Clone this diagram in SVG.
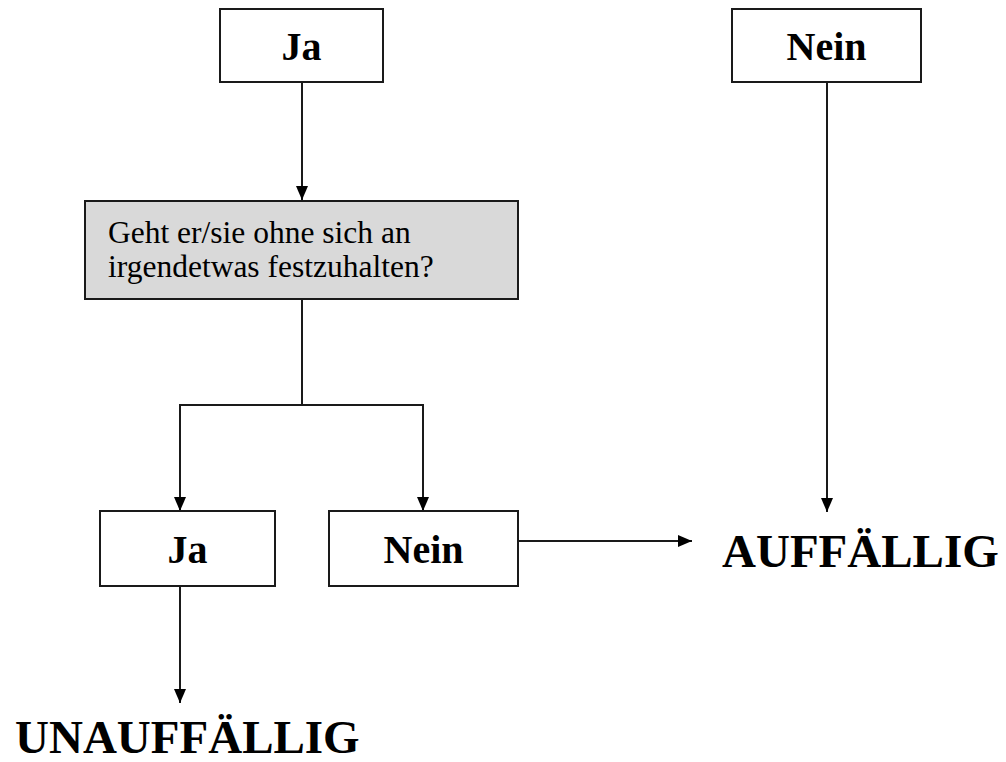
<svg xmlns="http://www.w3.org/2000/svg" width="1006" height="762" viewBox="0 0 1006 762">
  <defs>
    <style>
      .box { fill: #ffffff; stroke: #1a1a1a; stroke-width: 2; }
      .q { fill: #d9d9d9; stroke: #1a1a1a; stroke-width: 2; }
      .lbl { font-family: 'Liberation Serif', serif; font-weight: bold; font-size: 40px; fill: #000; text-anchor: middle; }
      .res { font-family: 'Liberation Serif', serif; font-weight: bold; font-size: 47px; fill: #000; }
      .qt { font-family: 'Liberation Serif', serif; font-weight: normal; font-style: normal; font-size: 31.5px; fill: #000; }
      .edge { fill: none; stroke: #1a1a1a; stroke-width: 2; }
    </style>
    <marker id="arrow" markerUnits="userSpaceOnUse" markerWidth="14" markerHeight="12" refX="14" refY="6" orient="auto">
      <path d="M0,0 L14,6 L0,12 z" fill="#000"/>
    </marker>
  </defs>
  <rect width="1006" height="762" fill="#ffffff"/>

  <g id="connectors">
    <path class="edge" d="M302,82 V200" marker-end="url(#arrow)"/>
    <path class="edge" d="M302,299 V405 H180 V511" marker-end="url(#arrow)"/>
    <path class="edge" d="M302,405 H423 V511" marker-end="url(#arrow)"/>
    <path class="edge" d="M827,82 V512" marker-end="url(#arrow)"/>
    <path class="edge" d="M518,541 H692" marker-end="url(#arrow)"/>
    <path class="edge" d="M180,586 V703" marker-end="url(#arrow)"/>
  </g>

  <g id="top-ja">
    <rect class="box" x="220" y="9" width="163" height="73"/>
    <text class="lbl" x="301.5" y="60">Ja</text>
  </g>

  <g id="top-nein">
    <rect class="box" x="732" y="9" width="189" height="73"/>
    <text class="lbl" x="826.5" y="60">Nein</text>
  </g>

  <g id="question">
    <rect class="q" x="85" y="201" width="433" height="98"/>
    <text class="qt" x="108" y="243">Geht er/sie ohne sich an</text>
    <text class="qt" x="108" y="277">irgendetwas festzuhalten?</text>
  </g>

  <g id="answer-ja">
    <rect class="box" x="100" y="511" width="175" height="75"/>
    <text class="lbl" x="187.5" y="563">Ja</text>
  </g>

  <g id="answer-nein">
    <rect class="box" x="329" y="511" width="189" height="75"/>
    <text class="lbl" x="423.5" y="563">Nein</text>
  </g>

  <g id="result-auffaellig">
    <text class="res" x="722" y="567">AUFFÄLLIG</text>
  </g>

  <g id="result-unauffaellig">
    <text class="res" x="15" y="753">UNAUFFÄLLIG</text>
  </g>
</svg>
